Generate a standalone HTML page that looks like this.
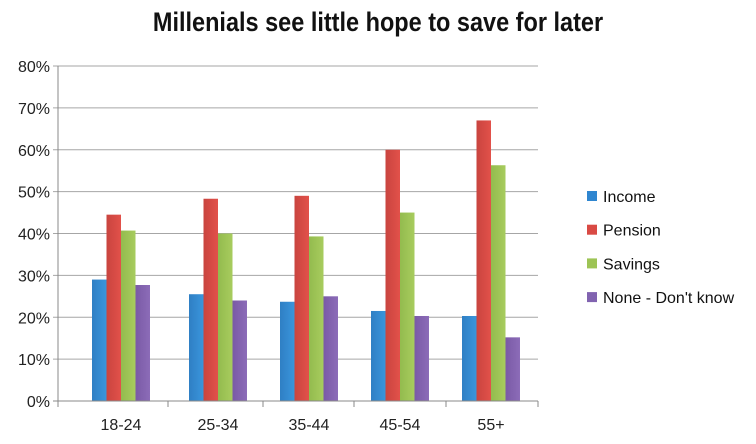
<!DOCTYPE html>
<html><head><meta charset="utf-8"><style>
body{margin:0;background:#fff;width:756px;height:439px;overflow:hidden;font-family:"Liberation Sans",sans-serif}
svg text{font-family:"Liberation Sans",sans-serif}
</style></head><body>
<svg id="chart" width="756" height="439" xmlns="http://www.w3.org/2000/svg">
<defs>
<linearGradient id="gIncome" x1="0" x2="1"><stop offset="0" stop-color="#2f7fc4"/><stop offset="1" stop-color="#3a95dc"/></linearGradient>
<linearGradient id="gPension" x1="0" x2="1"><stop offset="0" stop-color="#c9443f"/><stop offset="1" stop-color="#e2514a"/></linearGradient>
<linearGradient id="gSavings" x1="0" x2="1"><stop offset="0" stop-color="#93bb4e"/><stop offset="1" stop-color="#a8cc5e"/></linearGradient>
<linearGradient id="gNone" x1="0" x2="1"><stop offset="0" stop-color="#7a5aa6"/><stop offset="1" stop-color="#8c6cb8"/></linearGradient>
</defs>
<text x="378" y="31" text-anchor="middle" font-size="27" font-weight="bold" fill="#111" transform="translate(378 0) scale(0.87 1) translate(-378 0)">Millenials see little hope to save for later</text>
<g id="grid"></g><g id="bars"></g><g id="axes"></g><g id="legend"></g>
</svg>
<script>
const categories=["18-24","25-34","35-44","45-54","55+"];
const seriesNames=["Income","Pension","Savings","None - Don't know"];
const income=[29,25.5,23.7,21.5,20.3];
const pension=[44.5,48.3,49,60,67];
const savings=[40.7,40,39.3,45,56.3];
const noneDontKnow=[27.7,24,25,20.3,15.2];
const yTicks=[0,10,20,30,40,50,60,70,80];
const seriesValues=[income,pension,savings,noneDontKnow];
const fills=["url(#gIncome)","url(#gPension)","url(#gSavings)","url(#gNone)"];
const legendFills=["#2f86d0","#d94a44","#9dc455","#8163b0"];
const NS="http://www.w3.org/2000/svg";
const x0=58,x1=538,y0=401,yTop=66;
function y(v){return y0-(v/80)*(y0-yTop);}
const centers=[121,218,309,400,491];
const boundaries=[58,168,263,354,446,538];
function xc(i){return centers[i];}
const bw=14.5;
function mk(tag,attrs,parent){const e=document.createElementNS(NS,tag);for(const k in attrs)e.setAttribute(k,attrs[k]);parent.appendChild(e);return e;}
const grid=document.getElementById('grid'),axes=document.getElementById('axes'),bars=document.getElementById('bars'),legend=document.getElementById('legend');
yTicks.forEach(t=>{
 const l=mk('line',{x1:x0-5,x2:x1,y1:y(t),y2:y(t),stroke:t===0?'#888':'#a6a6a6','stroke-width':1},t===0?axes:grid);
 
 
 const tx=mk('text',{x:x0-8,y:y(t)+6,'text-anchor':'end','font-size':16,fill:'#222'},axes);
 tx.textContent=t+'%';
 
 
});
const ya=mk('line',{x1:x0,x2:x0,y1:yTop,y2:y0+6,stroke:'#888'},axes);


boundaries.forEach(b=>{
 const tk=mk('line',{x1:b,x2:b,y1:y0,y2:y0+6,stroke:'#888'},axes);
 
 
});
categories.forEach((c,i)=>{
 const tx=mk('text',{x:xc(i),y:430,'text-anchor':'middle','font-size':16,fill:'#222'},axes);
 tx.textContent=c;
 
 
 seriesValues.forEach((vals,s)=>{
  const bx=xc(i)-2*bw+s*bw;
  const r=mk('rect',{x:bx,y:y(vals[i]),width:bw,height:y0-y(vals[i]),fill:fills[s]},bars);
  
  
 });
});
seriesNames.forEach((n,s)=>{
 const ly=196+s*33.7;
 const g=mk('g',{},legend);
 
 
 mk('rect',{x:587,y:ly-5,width:10,height:10,fill:legendFills[s]},g);
 const tx=mk('text',{x:603,y:ly+6,'font-size':16,fill:'#111'},g);
 tx.textContent=n;
});
</script>
</body></html>
